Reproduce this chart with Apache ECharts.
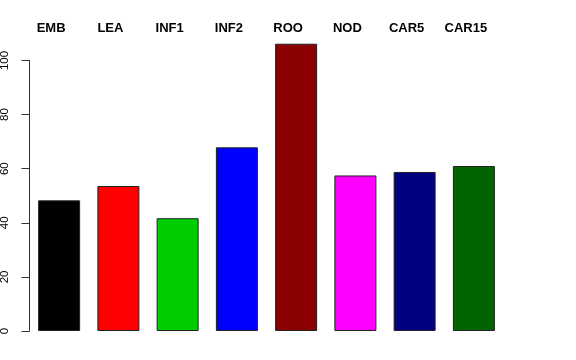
<!DOCTYPE html>
<html>
<head>
<meta charset="utf-8">
<script src="https://cdn.jsdelivr.net/npm/echarts@6/dist/echarts.min.js"></script>
<style>html,body{margin:0;padding:0;background:#fff}#c{width:576px;height:360px}</style>
</head>
<body>
<div id="c"></div>
<script>
const categories = ['EMB', 'LEA', 'INF1', 'INF2', 'ROO', 'NOD', 'CAR5', 'CAR15'];
const values = [48.3, 53.6, 41.7, 67.9, 106.2, 57.5, 58.8, 61.0];
const barColors = ['#000000', '#FF0000', '#00CD00', '#0000FF', '#8B0000', '#FF00FF', '#000080', '#006400'];
const yTicks = [0, 20, 40, 60, 80, 100];

const chart = echarts.init(document.getElementById('c'), null, {renderer: 'canvas'});
chart.setOption({
  animation: false,
  backgroundColor: '#ffffff',
  grid: {left: 29.5, right: 72.5, top: 60.5, bottom: 29, outerBoundsMode: 'none', containLabel: false},
  xAxis: {
    type: 'category',
    position: 'top',
    data: categories,
    axisLine: {show: false},
    axisTick: {show: false},
    axisLabel: {
      margin: 26,
      fontFamily: 'Liberation Sans',
      fontWeight: 'bold',
      fontSize: 13,
      color: '#000',
      padding: [0, 16, 0, 0]
    }
  },
  yAxis: {
    type: 'value',
    min: 0,
    max: 100,
    interval: 20,
    splitLine: {show: false},
    axisLine: {show: true, lineStyle: {color: '#333', width: 1}},
    axisTick: {show: true, length: 8, lineStyle: {color: '#333'}, customValues: yTicks},
    axisLabel: {
      rotate: 90,
      margin: 19,
      fontFamily: 'Liberation Sans',
      fontSize: 11.5,
      color: '#000',
      customValues: yTicks
    }
  },
  series: [{
    type: 'bar',
    clip: false,
    barWidth: 42,
    data: values.map((v, i) => ({
      value: v,
      itemStyle: {color: barColors[i], borderColor: '#222', borderWidth: 1}
    }))
  }]
});
</script>
</body>
</html>
